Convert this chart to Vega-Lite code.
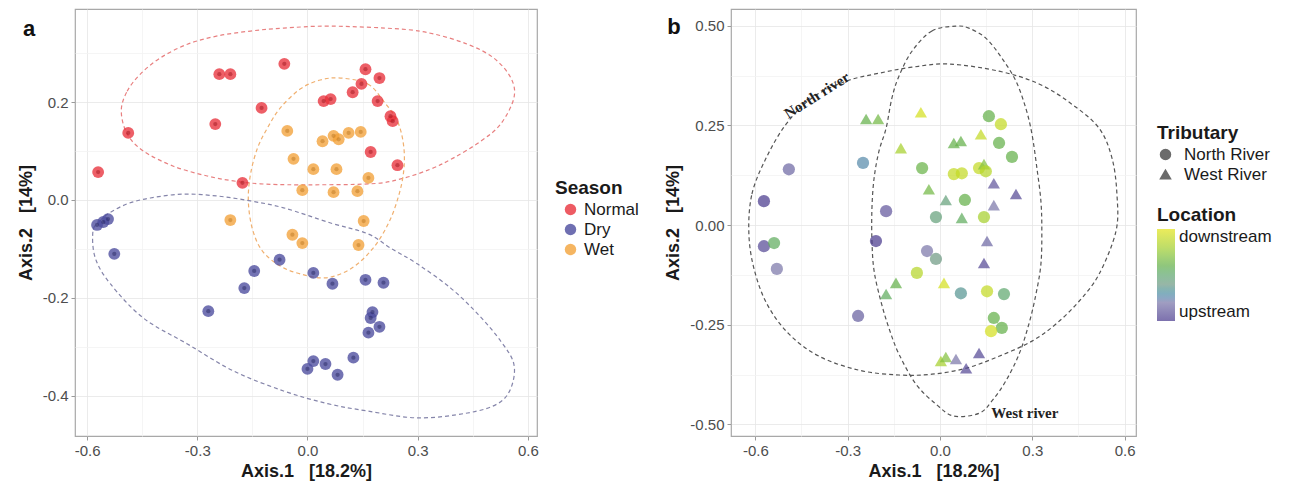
{
  "$schema": "https://vega.github.io/schema/vega-lite/v6.json",
  "background": "white",
  "padding": {"left": 16, "top": 8, "right": 5, "bottom": 5},
  "spacing": 24,
  "config": {
    "font": "Liberation Sans",
    "view": {"stroke": "#a8a8a8", "strokeWidth": 1.2},
    "axis": {"domain": false, "grid": true, "gridWidth": 0.8, "tickColor": "#9a9a9a", "tickSize": 4, "labelColor": "#4d4d4d", "labelFontSize": 15, "labelFont": "Liberation Sans", "labelPadding": 3, "labelFlush": false, "labelOverlap": false, "titleFont": "Liberation Sans", "titleFontSize": 18, "titleFontWeight": "bold", "titleColor": "#1a1a1a"},
    "axisY": {"titlePadding": 7},
    "axisX": {"titlePadding": 4},
    "legend": {"titleFont": "Liberation Sans", "labelFont": "Liberation Sans", "titleFontSize": 19, "labelFontSize": 17, "titleFontWeight": "bold", "labelColor": "#1a1a1a", "titleColor": "#1a1a1a"}
  },
  "datasets": {
    "pointsA": [
      {"x": -0.570, "y": 0.057, "season": "Normal"},
      {"x": -0.488, "y": 0.137, "season": "Normal"},
      {"x": -0.240, "y": 0.257, "season": "Normal"},
      {"x": -0.210, "y": 0.257, "season": "Normal"},
      {"x": -0.063, "y": 0.278, "season": "Normal"},
      {"x": -0.125, "y": 0.188, "season": "Normal"},
      {"x": -0.251, "y": 0.155, "season": "Normal"},
      {"x": -0.177, "y": 0.035, "season": "Normal"},
      {"x": 0.044, "y": 0.202, "season": "Normal"},
      {"x": 0.063, "y": 0.206, "season": "Normal"},
      {"x": 0.158, "y": 0.267, "season": "Normal"},
      {"x": 0.196, "y": 0.249, "season": "Normal"},
      {"x": 0.147, "y": 0.237, "season": "Normal"},
      {"x": 0.123, "y": 0.220, "season": "Normal"},
      {"x": 0.191, "y": 0.202, "season": "Normal"},
      {"x": 0.226, "y": 0.171, "season": "Normal"},
      {"x": 0.232, "y": 0.161, "season": "Normal"},
      {"x": 0.172, "y": 0.098, "season": "Normal"},
      {"x": 0.245, "y": 0.071, "season": "Normal"},
      {"x": -0.055, "y": 0.141, "season": "Wet"},
      {"x": -0.038, "y": 0.084, "season": "Wet"},
      {"x": 0.016, "y": 0.063, "season": "Wet"},
      {"x": 0.041, "y": 0.120, "season": "Wet"},
      {"x": 0.071, "y": 0.131, "season": "Wet"},
      {"x": 0.085, "y": 0.124, "season": "Wet"},
      {"x": 0.112, "y": 0.137, "season": "Wet"},
      {"x": 0.145, "y": 0.139, "season": "Wet"},
      {"x": 0.079, "y": 0.063, "season": "Wet"},
      {"x": 0.166, "y": 0.045, "season": "Wet"},
      {"x": -0.014, "y": 0.020, "season": "Wet"},
      {"x": 0.071, "y": 0.016, "season": "Wet"},
      {"x": 0.136, "y": 0.018, "season": "Wet"},
      {"x": 0.153, "y": -0.043, "season": "Wet"},
      {"x": 0.139, "y": -0.092, "season": "Wet"},
      {"x": -0.210, "y": -0.041, "season": "Wet"},
      {"x": -0.041, "y": -0.071, "season": "Wet"},
      {"x": -0.014, "y": -0.088, "season": "Wet"},
      {"x": -0.573, "y": -0.051, "season": "Dry"},
      {"x": -0.556, "y": -0.045, "season": "Dry"},
      {"x": -0.543, "y": -0.039, "season": "Dry"},
      {"x": -0.526, "y": -0.110, "season": "Dry"},
      {"x": -0.270, "y": -0.227, "season": "Dry"},
      {"x": -0.172, "y": -0.180, "season": "Dry"},
      {"x": -0.145, "y": -0.145, "season": "Dry"},
      {"x": -0.076, "y": -0.122, "season": "Dry"},
      {"x": 0.016, "y": -0.149, "season": "Dry"},
      {"x": 0.068, "y": -0.171, "season": "Dry"},
      {"x": 0.158, "y": -0.163, "season": "Dry"},
      {"x": 0.207, "y": -0.169, "season": "Dry"},
      {"x": 0.177, "y": -0.229, "season": "Dry"},
      {"x": 0.172, "y": -0.241, "season": "Dry"},
      {"x": 0.196, "y": -0.259, "season": "Dry"},
      {"x": 0.166, "y": -0.271, "season": "Dry"},
      {"x": 0.125, "y": -0.322, "season": "Dry"},
      {"x": 0.016, "y": -0.329, "season": "Dry"},
      {"x": 0.000, "y": -0.345, "season": "Dry"},
      {"x": 0.049, "y": -0.335, "season": "Dry"},
      {"x": 0.082, "y": -0.357, "season": "Dry"}
    ],
    "ellA": [
      {"g": "Normal", "i": 0, "x": -0.507, "y": 0.182},
      {"g": "Normal", "i": 1, "x": -0.491, "y": 0.222},
      {"g": "Normal", "i": 2, "x": -0.455, "y": 0.257},
      {"g": "Normal", "i": 3, "x": -0.401, "y": 0.290},
      {"g": "Normal", "i": 4, "x": -0.327, "y": 0.318},
      {"g": "Normal", "i": 5, "x": -0.245, "y": 0.335},
      {"g": "Normal", "i": 6, "x": -0.155, "y": 0.345},
      {"g": "Normal", "i": 7, "x": -0.065, "y": 0.351},
      {"g": "Normal", "i": 8, "x": 0.063, "y": 0.355},
      {"g": "Normal", "i": 9, "x": 0.254, "y": 0.349},
      {"g": "Normal", "i": 10, "x": 0.344, "y": 0.339},
      {"g": "Normal", "i": 11, "x": 0.436, "y": 0.318},
      {"g": "Normal", "i": 12, "x": 0.507, "y": 0.290},
      {"g": "Normal", "i": 13, "x": 0.554, "y": 0.249},
      {"g": "Normal", "i": 14, "x": 0.562, "y": 0.208},
      {"g": "Normal", "i": 15, "x": 0.526, "y": 0.155},
      {"g": "Normal", "i": 16, "x": 0.472, "y": 0.120},
      {"g": "Normal", "i": 17, "x": 0.398, "y": 0.086},
      {"g": "Normal", "i": 18, "x": 0.335, "y": 0.063},
      {"g": "Normal", "i": 19, "x": 0.254, "y": 0.043},
      {"g": "Normal", "i": 20, "x": 0.172, "y": 0.033},
      {"g": "Normal", "i": 21, "x": -0.019, "y": 0.031},
      {"g": "Normal", "i": 22, "x": -0.128, "y": 0.033},
      {"g": "Normal", "i": 23, "x": -0.202, "y": 0.039},
      {"g": "Normal", "i": 24, "x": -0.273, "y": 0.049},
      {"g": "Normal", "i": 25, "x": -0.365, "y": 0.069},
      {"g": "Normal", "i": 26, "x": -0.447, "y": 0.100},
      {"g": "Normal", "i": 27, "x": -0.491, "y": 0.135},
      {"g": "Wet", "i": 0, "x": 0.090, "y": 0.249},
      {"g": "Wet", "i": 1, "x": 0.164, "y": 0.237},
      {"g": "Wet", "i": 2, "x": 0.207, "y": 0.202},
      {"g": "Wet", "i": 3, "x": 0.245, "y": 0.161},
      {"g": "Wet", "i": 4, "x": 0.262, "y": 0.110},
      {"g": "Wet", "i": 5, "x": 0.262, "y": 0.059},
      {"g": "Wet", "i": 6, "x": 0.248, "y": 0.008},
      {"g": "Wet", "i": 7, "x": 0.221, "y": -0.047},
      {"g": "Wet", "i": 8, "x": 0.177, "y": -0.100},
      {"g": "Wet", "i": 9, "x": 0.117, "y": -0.141},
      {"g": "Wet", "i": 10, "x": 0.049, "y": -0.159},
      {"g": "Wet", "i": 11, "x": -0.019, "y": -0.151},
      {"g": "Wet", "i": 12, "x": -0.074, "y": -0.135},
      {"g": "Wet", "i": 13, "x": -0.123, "y": -0.104},
      {"g": "Wet", "i": 14, "x": -0.150, "y": -0.059},
      {"g": "Wet", "i": 15, "x": -0.161, "y": -0.002},
      {"g": "Wet", "i": 16, "x": -0.155, "y": 0.053},
      {"g": "Wet", "i": 17, "x": -0.136, "y": 0.106},
      {"g": "Wet", "i": 18, "x": -0.109, "y": 0.147},
      {"g": "Wet", "i": 19, "x": -0.074, "y": 0.188},
      {"g": "Wet", "i": 20, "x": -0.019, "y": 0.227},
      {"g": "Wet", "i": 21, "x": 0.035, "y": 0.245},
      {"g": "Dry", "i": 0, "x": -0.584, "y": -0.063},
      {"g": "Dry", "i": 1, "x": -0.565, "y": -0.043},
      {"g": "Dry", "i": 2, "x": -0.545, "y": -0.029},
      {"g": "Dry", "i": 3, "x": -0.491, "y": -0.008},
      {"g": "Dry", "i": 4, "x": -0.428, "y": 0.004},
      {"g": "Dry", "i": 5, "x": -0.338, "y": 0.012},
      {"g": "Dry", "i": 6, "x": -0.245, "y": 0.008},
      {"g": "Dry", "i": 7, "x": -0.155, "y": -0.002},
      {"g": "Dry", "i": 8, "x": -0.065, "y": -0.016},
      {"g": "Dry", "i": 9, "x": 0.063, "y": -0.047},
      {"g": "Dry", "i": 10, "x": 0.164, "y": -0.069},
      {"g": "Dry", "i": 11, "x": 0.226, "y": -0.098},
      {"g": "Dry", "i": 12, "x": 0.300, "y": -0.131},
      {"g": "Dry", "i": 13, "x": 0.390, "y": -0.180},
      {"g": "Dry", "i": 14, "x": 0.464, "y": -0.233},
      {"g": "Dry", "i": 15, "x": 0.526, "y": -0.288},
      {"g": "Dry", "i": 16, "x": 0.562, "y": -0.335},
      {"g": "Dry", "i": 17, "x": 0.554, "y": -0.384},
      {"g": "Dry", "i": 18, "x": 0.518, "y": -0.416},
      {"g": "Dry", "i": 19, "x": 0.436, "y": -0.435},
      {"g": "Dry", "i": 20, "x": 0.300, "y": -0.445},
      {"g": "Dry", "i": 21, "x": 0.164, "y": -0.431},
      {"g": "Dry", "i": 22, "x": 0.055, "y": -0.416},
      {"g": "Dry", "i": 23, "x": -0.065, "y": -0.390},
      {"g": "Dry", "i": 24, "x": -0.202, "y": -0.349},
      {"g": "Dry", "i": 25, "x": -0.327, "y": -0.294},
      {"g": "Dry", "i": 26, "x": -0.447, "y": -0.241},
      {"g": "Dry", "i": 27, "x": -0.537, "y": -0.171},
      {"g": "Dry", "i": 28, "x": -0.578, "y": -0.118}
    ],
    "pointsB": [
      {"x": -0.572, "y": 0.060, "trib": "North River", "loc": 0.0},
      {"x": -0.491, "y": 0.140, "trib": "North River", "loc": 0.15},
      {"x": -0.250, "y": 0.156, "trib": "North River", "loc": 0.27},
      {"x": -0.240, "y": 0.266, "trib": "West River", "loc": 0.6},
      {"x": -0.201, "y": 0.266, "trib": "West River", "loc": 0.65},
      {"x": -0.062, "y": 0.283, "trib": "West River", "loc": 0.95},
      {"x": -0.127, "y": 0.193, "trib": "West River", "loc": 0.8},
      {"x": -0.058, "y": 0.143, "trib": "North River", "loc": 0.62},
      {"x": 0.045, "y": 0.128, "trib": "North River", "loc": 0.9},
      {"x": 0.071, "y": 0.130, "trib": "North River", "loc": 0.9},
      {"x": 0.045, "y": 0.206, "trib": "West River", "loc": 0.6},
      {"x": 0.068, "y": 0.211, "trib": "West River", "loc": 0.6},
      {"x": -0.036, "y": 0.090, "trib": "West River", "loc": 0.65},
      {"x": 0.019, "y": 0.063, "trib": "West River", "loc": 0.45},
      {"x": -0.013, "y": 0.020, "trib": "North River", "loc": 0.45},
      {"x": -0.175, "y": 0.035, "trib": "North River", "loc": 0.1},
      {"x": -0.208, "y": -0.040, "trib": "North River", "loc": 0.0},
      {"x": -0.572, "y": -0.053, "trib": "North River", "loc": 0.05},
      {"x": -0.539, "y": -0.045, "trib": "North River", "loc": 0.55},
      {"x": -0.530, "y": -0.110, "trib": "North River", "loc": 0.2},
      {"x": -0.042, "y": -0.065, "trib": "North River", "loc": 0.2},
      {"x": -0.013, "y": -0.085, "trib": "North River", "loc": 0.4},
      {"x": -0.075, "y": -0.120, "trib": "North River", "loc": 0.85},
      {"x": -0.143, "y": -0.145, "trib": "West River", "loc": 0.6},
      {"x": -0.175, "y": -0.173, "trib": "West River", "loc": 0.55},
      {"x": 0.013, "y": -0.145, "trib": "West River", "loc": 0.95},
      {"x": -0.266, "y": -0.228, "trib": "North River", "loc": 0.12},
      {"x": 0.003, "y": -0.341, "trib": "West River", "loc": 0.8},
      {"x": 0.019, "y": -0.331, "trib": "West River", "loc": 0.7},
      {"x": 0.052, "y": -0.336, "trib": "West River", "loc": 0.2},
      {"x": 0.085, "y": -0.359, "trib": "West River", "loc": 0.05},
      {"x": 0.159, "y": 0.273, "trib": "North River", "loc": 0.6},
      {"x": 0.198, "y": 0.253, "trib": "North River", "loc": 0.9},
      {"x": 0.133, "y": 0.228, "trib": "West River", "loc": 0.9},
      {"x": 0.192, "y": 0.206, "trib": "North River", "loc": 0.6},
      {"x": 0.234, "y": 0.171, "trib": "North River", "loc": 0.6},
      {"x": 0.127, "y": 0.143, "trib": "North River", "loc": 0.9},
      {"x": 0.143, "y": 0.153, "trib": "West River", "loc": 0.7},
      {"x": 0.149, "y": 0.135, "trib": "North River", "loc": 0.85},
      {"x": 0.175, "y": 0.105, "trib": "West River", "loc": 0.1},
      {"x": 0.247, "y": 0.078, "trib": "West River", "loc": 0.05},
      {"x": 0.175, "y": 0.050, "trib": "West River", "loc": 0.2},
      {"x": 0.081, "y": 0.063, "trib": "North River", "loc": 0.6},
      {"x": 0.071, "y": 0.018, "trib": "West River", "loc": 0.55},
      {"x": 0.143, "y": 0.020, "trib": "North River", "loc": 0.8},
      {"x": 0.153, "y": -0.040, "trib": "West River", "loc": 0.15},
      {"x": 0.143, "y": -0.095, "trib": "West River", "loc": 0.05},
      {"x": 0.068, "y": -0.171, "trib": "North River", "loc": 0.35},
      {"x": 0.153, "y": -0.166, "trib": "North River", "loc": 0.9},
      {"x": 0.208, "y": -0.173, "trib": "North River", "loc": 0.5},
      {"x": 0.175, "y": -0.233, "trib": "North River", "loc": 0.6},
      {"x": 0.201, "y": -0.258, "trib": "North River", "loc": 0.6},
      {"x": 0.166, "y": -0.266, "trib": "North River", "loc": 0.95},
      {"x": 0.127, "y": -0.321, "trib": "West River", "loc": 0.05}
    ],
    "ellB": [
      {"g": "North", "i": 0, "x": -0.621, "y": -0.020},
      {"g": "North", "i": 1, "x": -0.611, "y": 0.078},
      {"g": "North", "i": 2, "x": -0.565, "y": 0.168},
      {"g": "North", "i": 3, "x": -0.500, "y": 0.253},
      {"g": "North", "i": 4, "x": -0.416, "y": 0.319},
      {"g": "North", "i": 5, "x": -0.305, "y": 0.361},
      {"g": "North", "i": 6, "x": -0.198, "y": 0.381},
      {"g": "North", "i": 7, "x": -0.091, "y": 0.396},
      {"g": "North", "i": 8, "x": 0.029, "y": 0.404},
      {"g": "North", "i": 9, "x": 0.192, "y": 0.386},
      {"g": "North", "i": 10, "x": 0.322, "y": 0.354},
      {"g": "North", "i": 11, "x": 0.429, "y": 0.303},
      {"g": "North", "i": 12, "x": 0.517, "y": 0.243},
      {"g": "North", "i": 13, "x": 0.559, "y": 0.168},
      {"g": "North", "i": 14, "x": 0.575, "y": 0.078},
      {"g": "North", "i": 15, "x": 0.572, "y": -0.015},
      {"g": "North", "i": 16, "x": 0.517, "y": -0.123},
      {"g": "North", "i": 17, "x": 0.452, "y": -0.191},
      {"g": "North", "i": 18, "x": 0.377, "y": -0.248},
      {"g": "North", "i": 19, "x": 0.299, "y": -0.291},
      {"g": "North", "i": 20, "x": 0.192, "y": -0.329},
      {"g": "North", "i": 21, "x": 0.085, "y": -0.359},
      {"g": "North", "i": 22, "x": -0.026, "y": -0.374},
      {"g": "North", "i": 23, "x": -0.133, "y": -0.376},
      {"g": "North", "i": 24, "x": -0.263, "y": -0.364},
      {"g": "North", "i": 25, "x": -0.393, "y": -0.329},
      {"g": "North", "i": 26, "x": -0.491, "y": -0.273},
      {"g": "North", "i": 27, "x": -0.562, "y": -0.198},
      {"g": "North", "i": 28, "x": -0.604, "y": -0.110},
      {"g": "West", "i": 0, "x": 0.052, "y": 0.499},
      {"g": "West", "i": 1, "x": -0.026, "y": 0.487},
      {"g": "West", "i": 2, "x": -0.091, "y": 0.436},
      {"g": "West", "i": 3, "x": -0.133, "y": 0.374},
      {"g": "West", "i": 4, "x": -0.156, "y": 0.319},
      {"g": "West", "i": 5, "x": -0.175, "y": 0.243},
      {"g": "West", "i": 6, "x": -0.198, "y": 0.186},
      {"g": "West", "i": 7, "x": -0.214, "y": 0.118},
      {"g": "West", "i": 8, "x": -0.221, "y": 0.043},
      {"g": "West", "i": 9, "x": -0.221, "y": -0.040},
      {"g": "West", "i": 10, "x": -0.214, "y": -0.115},
      {"g": "West", "i": 11, "x": -0.192, "y": -0.191},
      {"g": "West", "i": 12, "x": -0.166, "y": -0.258},
      {"g": "West", "i": 13, "x": -0.133, "y": -0.324},
      {"g": "West", "i": 14, "x": -0.078, "y": -0.399},
      {"g": "West", "i": 15, "x": -0.013, "y": -0.449},
      {"g": "West", "i": 16, "x": 0.045, "y": -0.479},
      {"g": "West", "i": 17, "x": 0.127, "y": -0.472},
      {"g": "West", "i": 18, "x": 0.169, "y": -0.441},
      {"g": "West", "i": 19, "x": 0.214, "y": -0.391},
      {"g": "West", "i": 20, "x": 0.257, "y": -0.324},
      {"g": "West", "i": 21, "x": 0.289, "y": -0.248},
      {"g": "West", "i": 22, "x": 0.312, "y": -0.173},
      {"g": "West", "i": 23, "x": 0.328, "y": -0.098},
      {"g": "West", "i": 24, "x": 0.331, "y": -0.015},
      {"g": "West", "i": 25, "x": 0.328, "y": 0.060},
      {"g": "West", "i": 26, "x": 0.315, "y": 0.143},
      {"g": "West", "i": 27, "x": 0.299, "y": 0.228},
      {"g": "West", "i": 28, "x": 0.279, "y": 0.293},
      {"g": "West", "i": 29, "x": 0.247, "y": 0.361},
      {"g": "West", "i": 30, "x": 0.201, "y": 0.419},
      {"g": "West", "i": 31, "x": 0.149, "y": 0.469},
      {"g": "West", "i": 32, "x": 0.094, "y": 0.494}
    ],
    "labelsB": [
      {"x": -0.400, "y": 0.326, "label": "North river"},
      {"x": 0.276, "y": -0.472, "label": "West river"}
    ],
    "tagA": [{"x": -0.758, "y": 0.335, "label": "a"}],
    "tagB": [{"x": -0.864, "y": 0.479, "label": "b"}]
  },
  "hconcat": [
    {
      "width": 462,
      "height": 427,
      "encoding": {
        "x": {"field": "x", "type": "quantitative", "scale": {"domain": [-0.633, 0.625], "nice": false, "zero": false},
          "axis": {"title": "Axis.1\u00a0\u00a0\u00a0[18.2%]", "values": [-0.6, -0.45, -0.3, -0.15, 0, 0.15, 0.3, 0.45, 0.6],
            "labelExpr": "round(datum.value*100) % 30 == 0 ? replace(format(datum.value, '.1f'), '\u2212', '-') : ''",
            "tickOpacity": {"condition": {"test": "round(datum.value*100) % 30 != 0", "value": 0}, "value": 1},
            "gridColor": {"condition": {"test": "round(datum.value*100) % 30 != 0", "value": "#f3f3f3"}, "value": "#e6e6e6"}}},
        "y": {"field": "y", "type": "quantitative", "scale": {"domain": [-0.482, 0.39], "nice": false, "zero": false},
          "axis": {"title": "Axis.2\u00a0\u00a0\u00a0[14%]", "values": [-0.4, -0.3, -0.2, -0.1, 0, 0.1, 0.2, 0.3],
            "labelExpr": "round(datum.value*10) % 2 == 0 ? replace(format(datum.value, '.1f'), '\u2212', '-') : ''",
            "tickOpacity": {"condition": {"test": "round(datum.value*10) % 2 != 0", "value": 0}, "value": 1},
            "gridColor": {"condition": {"test": "round(datum.value*10) % 2 != 0", "value": "#f3f3f3"}, "value": "#e6e6e6"}}}
      },
      "layer": [
        {
          "data": {"name": "ellA"},
          "mark": {"type": "line", "interpolate": "cardinal-closed", "strokeDash": [4, 3], "strokeWidth": 1.2},
          "encoding": {
            "detail": {"field": "g"},
            "order": {"field": "i", "type": "quantitative"},
            "color": {"field": "g", "type": "nominal", "scale": {"domain": ["Normal", "Dry", "Wet"], "range": ["#e88080", "#8585aa", "#f0b070"]}, "legend": null}
          }
        },
        {
          "data": {"name": "pointsA"},
          "mark": {"type": "point", "filled": true, "size": 140, "opacity": 0.78},
          "encoding": {
            "color": {"field": "season", "type": "nominal", "scale": {"domain": ["Normal", "Dry", "Wet"], "range": ["#e8323c", "#4b4b9d", "#f2a23a"]},
              "legend": {"orient": "none", "legendX": 480, "legendY": 170, "title": "Season", "symbolType": "circle", "symbolSize": 130, "symbolOpacity": 0.8, "symbolOffset": 7, "labelOffset": 5, "rowPadding": 2, "titlePadding": 3}}
          }
        },
        {
          "data": {"name": "pointsA"},
          "mark": {"type": "point", "filled": true, "size": 18, "opacity": 0.45},
          "encoding": {
            "color": {"field": "season", "type": "nominal", "scale": {"domain": ["Normal", "Dry", "Wet"], "range": ["#9a1018", "#22225a", "#b8701a"]}, "legend": null}
          }
        },
        {
          "data": {"name": "tagA"},
          "mark": {"type": "text", "font": "Liberation Sans", "fontSize": 22, "fontWeight": "bold", "color": "#111111", "align": "center", "baseline": "alphabetic"},
          "encoding": {"text": {"field": "label"}}
        }
      ],
      "resolve": {"scale": {"color": "independent"}}
    },
    {
      "width": 405,
      "height": 427,
      "encoding": {
        "x": {"field": "x", "type": "quantitative", "scale": {"domain": [-0.679, 0.637], "nice": false, "zero": false},
          "axis": {"title": "Axis.1\u00a0\u00a0\u00a0[18.2%]", "values": [-0.6, -0.45, -0.3, -0.15, 0, 0.15, 0.3, 0.45, 0.6],
            "labelExpr": "round(datum.value*100) % 30 == 0 ? replace(format(datum.value, '.1f'), '\u2212', '-') : ''",
            "tickOpacity": {"condition": {"test": "round(datum.value*100) % 30 != 0", "value": 0}, "value": 1},
            "gridColor": {"condition": {"test": "round(datum.value*100) % 30 != 0", "value": "#f3f3f3"}, "value": "#e6e6e6"}}},
        "y": {"field": "y", "type": "quantitative", "scale": {"domain": [-0.529, 0.542], "nice": false, "zero": false},
          "axis": {"title": "Axis.2\u00a0\u00a0\u00a0[14%]", "values": [-0.5, -0.375, -0.25, -0.125, 0, 0.125, 0.25, 0.375, 0.5],
            "labelExpr": "round(datum.value*1000) % 250 == 0 ? replace(format(datum.value, '.2f'), '\u2212', '-') : ''",
            "tickOpacity": {"condition": {"test": "round(datum.value*1000) % 250 != 0", "value": 0}, "value": 1},
            "gridColor": {"condition": {"test": "round(datum.value*1000) % 250 != 0", "value": "#f3f3f3"}, "value": "#e6e6e6"}}}
      },
      "layer": [
        {
          "data": {"name": "ellB"},
          "mark": {"type": "line", "interpolate": "cardinal-closed", "strokeDash": [4, 3], "strokeWidth": 1.2, "color": "#555555"},
          "encoding": {
            "detail": {"field": "g"},
            "order": {"field": "i", "type": "quantitative"}
          }
        },
        {
          "data": {"name": "labelsB"},
          "transform": [{"filter": "datum.label == 'North river'"}],
          "mark": {"type": "text", "font": "Liberation Serif", "fontWeight": "bold", "fontSize": 15, "angle": -32, "color": "#222222"},
          "encoding": {"text": {"field": "label"}}
        },
        {
          "data": {"name": "labelsB"},
          "transform": [{"filter": "datum.label == 'West river'"}],
          "mark": {"type": "text", "font": "Liberation Serif", "fontWeight": "bold", "fontSize": 15, "color": "#222222"},
          "encoding": {"text": {"field": "label"}}
        },
        {
          "data": {"name": "pointsB"},
          "mark": {"type": "point", "filled": true, "size": 150, "opacity": 0.72},
          "encoding": {
            "shape": {"field": "trib", "type": "nominal", "scale": {"domain": ["North River", "West River"], "range": ["circle", "triangle-up"]},
              "legend": {"orient": "none", "legendX": 426, "legendY": 115, "title": "Tributary", "symbolFillColor": "#333333", "symbolStrokeColor": "#333333", "symbolSize": 100, "labelOffset": 10, "rowPadding": 2, "titlePadding": 3}},
            "color": {"field": "loc", "type": "quantitative", "scale": {"domain": [0, 1], "range": ["#4a3a8e", "#7b77a9", "#6f9a84", "#64b04a", "#a6d02e", "#e4e41c"]},
              "legend": {"orient": "none", "legendX": 426, "legendY": 197, "title": "Location", "direction": "vertical", "values": [0, 1], "labelExpr": "datum.value >= 1 ? 'downstream' : 'upstream'", "gradientLength": 92, "gradientThickness": 18, "gradientStrokeWidth": 0, "labelOffset": 4, "titlePadding": 4}}
          }
        },
        {
          "data": {"name": "tagB"},
          "mark": {"type": "text", "font": "Liberation Sans", "fontSize": 22, "fontWeight": "bold", "color": "#111111", "align": "center", "baseline": "alphabetic"},
          "encoding": {"text": {"field": "label"}}
        }
      ]
    }
  ],
  "resolve": {"scale": {"color": "independent", "shape": "independent", "x": "independent", "y": "independent"}, "legend": {"color": "independent", "shape": "independent"}}
}
